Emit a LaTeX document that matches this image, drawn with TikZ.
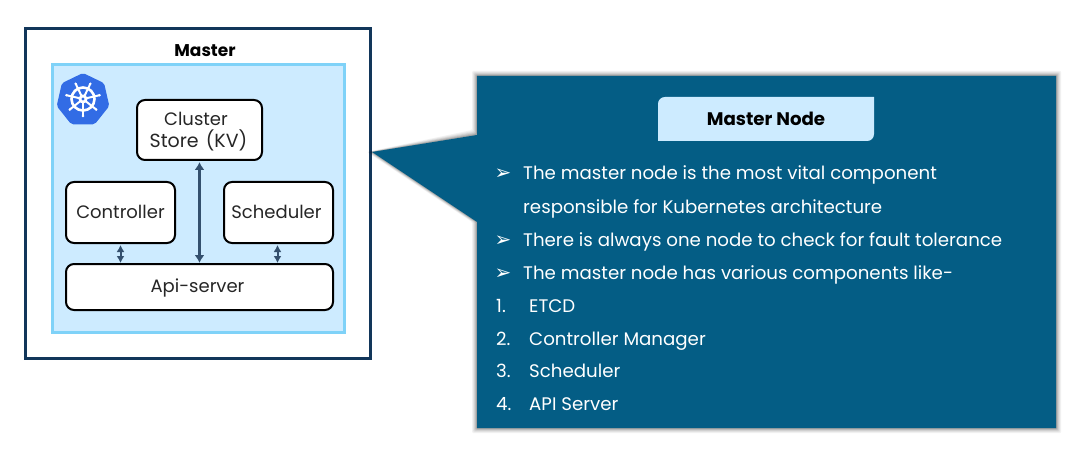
\documentclass[tikz,border=0pt]{standalone}
\usepackage{fontspec}
\setmainfont{Poppins}
\newfontfamily\symfont{DejaVu Sans}
\usetikzlibrary{shapes.geometric,arrows.meta}
\definecolor{navy}{HTML}{12365A}
\definecolor{panel}{HTML}{CDEBFF}
\definecolor{panelline}{HTML}{7FD2F8}
\definecolor{teal}{HTML}{045D85}
\definecolor{kube}{HTML}{326CE5}
\definecolor{arrowc}{HTML}{34506E}
\tikzset{
  comp/.style={draw=black,line width=2pt,fill=white,rounded corners=8pt,inner sep=0pt,align=center,font=\fontsize{18}{22}\selectfont,text=black!85},
  twoway/.style={{Latex[length=7pt,width=8pt]}-{Latex[length=7pt,width=8pt]},draw=arrowc,line width=2pt},
  twowaybig/.style={{Latex[length=8pt,width=10pt]}-{Latex[length=8pt,width=10pt]},draw=arrowc,line width=3pt},
  txtline/.style={anchor=base west,inner sep=0pt,text=white,font=\fontsize{18.2}{20}\selectfont},
  bulletmark/.style={anchor=base,inner sep=0pt,text=white,font=\symfont\fontsize{20}{20}\selectfont},
}
\begin{document}
\begin{tikzpicture}[x=1pt,y=-1pt]
\useasboundingbox (0,0) rectangle (1081,457);
% outer box
\node[draw=navy,line width=3pt,fill=white,minimum width=345pt,minimum height=329pt,inner sep=0pt] (outer) at (197.5,193.5) {};
\node[font=\bfseries\fontsize{17}{20}\selectfont,inner sep=0pt] (mastertitle) at (205,51) {Master};
\node[draw=panelline,line width=3pt,fill=panel,minimum width=292pt,minimum height=267pt,inner sep=0pt] (panelbox) at (198,198.5) {};
% logo
\node[regular polygon,regular polygon sides=7,fill=kube,rounded corners=2pt,minimum size=54pt,inner sep=0pt] (logo) at (83,100) {};
\begin{scope}[shift={(83,99)},white]
  \draw[line width=2.6pt] (0,0) circle (11.5pt);
  \foreach \a in {90,141.4,192.9,244.3,295.7,347.1,38.6}{
    \draw[line width=2pt,line cap=round] (0,0) -- (\a:-17pt);
    \fill (\a:-17pt) circle (1.3pt);
  }
  \fill (0,0) circle (4.5pt);
  \fill[kube] (0,0) circle (1.6pt);
\end{scope}
% components
\node[comp,minimum width=125pt,minimum height=60pt] (store) at (199.5,130) {\hspace*{-7pt}\raisebox{-2pt}[\height][\depth]{Cluster}\\\hspace*{-2pt}\raisebox{-2pt}[\height][\depth]{\fontsize{19}{22}\selectfont Store\hspace{2pt} (KV)}};
\node[comp,minimum width=109pt,minimum height=61pt] (ctrl) at (120.5,212.5) {\raisebox{2pt}{Controller}};
\node[comp,minimum width=109pt,minimum height=61pt] (sched) at (278.5,212.5) {\hspace*{-4pt}\raisebox{2pt}{Scheduler}};
\node[comp,minimum width=267pt,minimum height=46pt] (api) at (199.5,287) {\hspace*{-4pt}\raisebox{-1pt}[\height][\depth]{Api-server}};
\draw[twowaybig,shorten <=1pt] (store.south) -- (store.south |- api.north);
\draw[twoway,shorten <=1pt] (ctrl.south) -- (ctrl.south |- api.north);
\draw[twoway,shorten <=1pt] ([xshift=-1pt]sched.south) -- ([xshift=-1pt]sched.south |- api.north);
% callout shadow
\foreach \g/\o in {5/0.05,4/0.06,3/0.08,2/0.10,1/0.14}{
  \fill[black,opacity=\o,rounded corners=1pt] (477-\g,76-\g) -- (1056+\g,76-\g) -- (1056+\g,428+\g) -- (477-\g,428+\g) -- (477-\g,222) -- (372-\g,152) -- (477-\g,135-\g) -- cycle;
}
% callout
\fill[teal] (477,76) -- (1056,76) -- (1056,428) -- (477,428) -- (477,222) -- (372,152) -- (477,135) -- cycle;
% title tab
\path[fill=panel] (658,141) -- (658,104) .. controls (658,100) and (661,97) .. (665,97) -- (874,97) -- (874,134) .. controls (874,138) and (871,141) .. (867,141) -- cycle;
\node[font=\bfseries\fontsize{18.2}{20}\selectfont,inner sep=0pt] (tabtitle) at (766,119) {Master Node};
% text
\node[bulletmark] (b1) at (503,180) {➢};
\node[txtline] (t1) at (523,180) {The master node is the most vital component};
\node[txtline] (t1b) at (523,213) {responsible for Kubernetes architecture};
\node[bulletmark] (b2) at (503,246) {➢};
\node[txtline] (t2) at (523,246) {There is always one node to check for fault tolerance};
\node[bulletmark] (b3) at (503,279) {➢};
\node[txtline] (t3) at (523,279) {The master node has various components like-};
\node[txtline] (n1) at (496,312) {1.};
\node[txtline] (l1) at (529,312) {ETCD};
\node[txtline] (n2) at (496,345) {2.};
\node[txtline] (l2) at (529,345) {Controller Manager};
\node[txtline] (n3) at (496,377) {3.};
\node[txtline] (l3) at (529,377) {Scheduler};
\node[txtline] (n4) at (496,410) {4.};
\node[txtline] (l4) at (529,410) {API Server};
\end{tikzpicture}
\end{document}
